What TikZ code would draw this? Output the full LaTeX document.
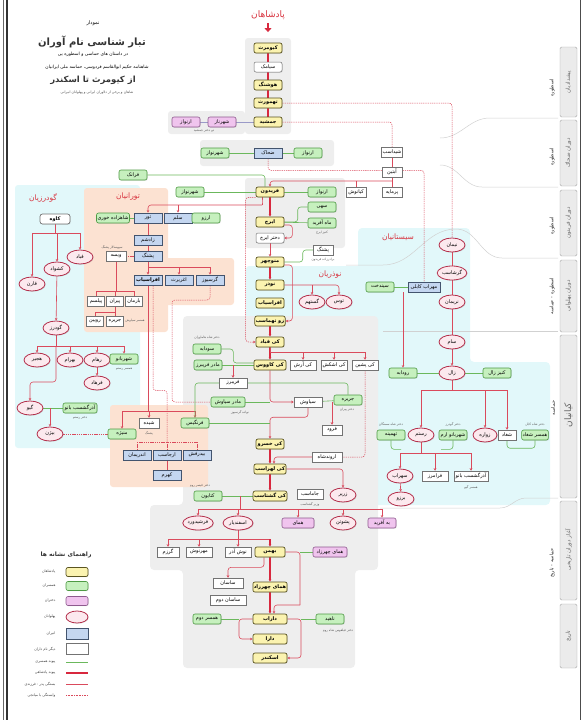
\documentclass[tikz,border=0pt]{standalone}
\usepackage{fontspec}
\usetikzlibrary{positioning,shapes.geometric,arrows.meta,shadows}
\newfontfamily\arabicfont[Script=Arabic]{DejaVu Sans}
\TeXXeTstate=1
\newcommand{\fa}[1]{\beginR #1\endR}

\definecolor{kingfill}{HTML}{FBF3B0}
\definecolor{kingline}{HTML}{5A5420}
\definecolor{wifefill}{HTML}{C6F0BE}
\definecolor{wifeline}{HTML}{4E9A44}
\definecolor{girlfill}{HTML}{F0C4EE}
\definecolor{girlline}{HTML}{8E5A8E}
\definecolor{herofill}{HTML}{FCE9EE}
\definecolor{heroline}{HTML}{B4304C}
\definecolor{anirfill}{HTML}{C4D6F0}
\definecolor{anirline}{HTML}{43546E}
\definecolor{royalred}{HTML}{D8283E}
\definecolor{kinred}{HTML}{DA4A5C}
\definecolor{marrygreen}{HTML}{6BB85C}
\definecolor{lavline}{HTML}{9A9AC8}
\definecolor{titlered}{HTML}{D8343F}
\definecolor{bggray}{HTML}{EEEEEE}
\definecolor{bgcyan}{HTML}{E2F8FA}
\definecolor{bgpeach}{HTML}{FCE2D2}

\pgfdeclarelayer{back}
\pgfdeclarelayer{wires}
\pgfsetlayers{back,wires,main}

\tikzset{
  famnode/.style={rectangle, rounded corners=2pt, minimum width=28pt, minimum height=10pt,
    inner sep=1pt, font=\arabicfont\fontsize{5}{6}\selectfont,
    drop shadow={opacity=0.25, shadow xshift=0.7pt, shadow yshift=-0.7pt}},
  kingbox/.style={famnode, draw=kingline, fill=kingfill, line width=0.7pt,
    font=\arabicfont\bfseries\fontsize{5}{6}\selectfont},
  wifebox/.style={famnode, draw=wifeline, fill=wifefill, line width=0.6pt},
  girlbox/.style={famnode, draw=girlline, fill=girlfill, line width=0.6pt},
  anirbox/.style={famnode, rounded corners=0pt, draw=anirline, fill=anirfill, line width=0.6pt},
  otherbox/.style={famnode, rounded corners=0pt, minimum width=20pt, draw=black!55, fill=white, line width=0.5pt},
  herobox/.style={famnode, ellipse, minimum width=26pt, minimum height=14pt, inner sep=0.5pt,
    draw=heroline, fill=herofill, line width=0.8pt},
  notetext/.style={font=\arabicfont\fontsize{3.2}{3.6}\selectfont, text=black!65, inner sep=0pt},
  grouptitle/.style={font=\arabicfont\fontsize{7.5}{8}\selectfont, text=titlered},
  eratab/.style={fill=black!8, draw=black!35, line width=0.4pt, rounded corners=1.5pt},
  eratext/.style={font=\arabicfont\fontsize{5.5}{6}\selectfont, text=black!60, rotate=90},
  eralabel/.style={font=\arabicfont\fontsize{5}{6}\selectfont, text=black!85, rotate=90},
  legendtext/.style={font=\arabicfont\fontsize{3.6}{4}\selectfont, text=black!75, anchor=east},
  royalline/.style={draw=royalred, line width=1.1pt, rounded corners=3pt},
  kinline/.style={draw=kinred, line width=0.6pt, rounded corners=3pt},
  viadash/.style={draw=kinred, line width=0.5pt, dash pattern=on 1.3pt off 0.9pt, rounded corners=3pt},
  marryline/.style={draw=marrygreen, line width=0.6pt, rounded corners=3pt},
  sepline/.style={draw=black!18, line width=0.5pt},
  arrowed/.style={-{Stealth[length=2.6pt,width=2.6pt]}}
}

\begin{document}
\begin{tikzpicture}[x=1pt,y=-1pt]
  \useasboundingbox (0,0) rectangle (583,720);

  % page frame
  \draw[line width=1.3pt, black!80] (7,0) -- (7,720);
  \draw[line width=0.4pt, black!60] (3,0) -- (3,720);
  \draw[line width=0.8pt, black!70] (580,0) -- (580,720);

  % background blocks
  \begin{pgfonlayer}{back}
    \fill[bggray, rounded corners=3pt] (245,38) rectangle (291,134);
    \fill[bggray, rounded corners=3pt] (168,111) rectangle (245,134);
    \fill[bggray, rounded corners=3pt] (200,140) rectangle (334,166);
    \fill[bggray, rounded corners=3pt] (245,178) rectangle (345,248);
    \fill[bgcyan, rounded corners=3pt] (246,266) rectangle (362,334);
    \fill[bgcyan, rounded corners=3pt] (15,185) rectangle (140,448);
    \fill[bgpeach, rounded corners=3pt] (84,188) rectangle (168,332);
    \fill[bgpeach, rounded corners=3pt] (160,258) rectangle (234,305);
    \fill[bgcyan, rounded corners=4pt] (358,228) -- (470,228) -- (470,362) -- (550,362)
      -- (550,505) -- (358,505) -- cycle;
    \fill[bggray, rounded corners=4pt] (183,316) -- (378,316) -- (378,570) -- (355,570)
      -- (355,668) -- (183,668) -- (183,570) -- (150,570) -- (150,505) -- (183,505) -- cycle;
    \fill[bgpeach, rounded corners=3pt] (110,405) rectangle (208,487);

    % era separators
    \draw[sepline] (558,118) -- (490,118) to[out=180,in=0] (440,138);
    \draw[sepline] (558,187) -- (482,187) to[out=180,in=0] (440,165);
    \draw[sepline] (558,258) -- (502,258) to[out=180,in=0] (456,229) to[out=180,in=0] (383,265) -- (346,265);
    \draw[sepline] (383,331) -- (558,331);
    \draw[sepline] (558,498) -- (526,498) to[out=180,in=0] (500,508) -- (380,508);
  \end{pgfonlayer}

  % title block
  \node[font=\arabicfont\fontsize{5}{6}\selectfont] (ttop) at (93,23) {\fa{نمودار}};
  \node[font=\arabicfont\bfseries\fontsize{10}{12}\selectfont, text=black!80] (tmain) at (92,42) {\fa{تبار شناسی نام آوران}};
  \node[font=\arabicfont\fontsize{4.5}{5}\selectfont] (tsub1) at (93,54) {\fa{در داستان های حماسی و اسطوره یی}};
  \node[font=\arabicfont\fontsize{4.5}{5}\selectfont] (tsub2) at (97,67) {\fa{شاهنامه حکیم ابوالقاسم فردوسی، حماسه ملی ایرانیان}};
  \node[font=\arabicfont\bfseries\fontsize{8.5}{10}\selectfont, text=black!80] (tsub3) at (93,80) {\fa{از کیومرث تا اسکندر}};
  \node[font=\arabicfont\fontsize{3.5}{4}\selectfont, text=black!70] (tsub4) at (97,93) {\fa{شاهان و برخی از دلاوران ایرانی و پهلوانان انیرانی}};

  % kings heading
  \node[grouptitle, font=\arabicfont\fontsize{9}{10}\selectfont] (kingstitle) at (268,15) {\fa{پادشاهان}};
  \draw[royalred, line width=2.6pt, -{Triangle[length=4pt,width=7pt]}] (kingstitle.south) -- ++(0,9);

  % Pishdadian
  \node[kingbox] (kiumars) at (268,48) {\fa{کیومرث}};
  \node[otherbox, rounded corners=2pt, minimum width=28pt] (siamak) at (268,67) {\fa{سیامک}};
  \node[kingbox] (hushang) at (268,85) {\fa{هوشنگ}};
  \node[kingbox] (tahmures) at (268,103) {\fa{تهمورث}};
  \node[kingbox] (jamshid) at (268,122) {\fa{جمشید}};
  \node[girlbox] (shahrnaz) at (222,122) {\fa{شهرناز}};
  \node[girlbox] (arnavazA) at (186,122) {\fa{ارنواز}};
  \node[notetext] (jamgirls) at (204,131) {\fa{دو دختر جمشید}};

  % Zahhak
  \node[anirbox] (zahhak) at (268,153) {\fa{ضحاک}};
  \node[wifebox] (shahrnavazA) at (215,153) {\fa{شهرنواز}};
  \node[wifebox] (arnavazB) at (308,153) {\fa{ارنواز}};
  \node[otherbox] (shidasb) at (392,152) {\fa{شیداسب}};
  \node[otherbox] (abtin) at (392,172) {\fa{آبتین}};

  % Fereydun
  \node[wifebox] (faranak) at (133,175) {\fa{فرانک}};
  \node[kingbox] (fereydun) at (270,192) {\fa{فریدون}};
  \node[wifebox] (shahrnavazB) at (190,192) {\fa{شهرنواز}};
  \node[wifebox] (arnavazC) at (322,192) {\fa{ارنواز}};
  \node[otherbox] (kianush) at (356,192) {\fa{کیانوش}};
  \node[otherbox] (purmayeh) at (392,192) {\fa{پرمایه}};
  \node[wifebox] (sahi) at (322,207) {\fa{سهی}};
  \node[wifebox] (mahafarid) at (322,223) {\fa{ماه آفرید}};
  \node[notetext] (mahnote) at (322,233) {\fa{کنیز ایرج}};
  \node[kingbox] (iraj) at (270,222) {\fa{ایرج}};
  \node[otherbox, rounded corners=2pt, minimum width=28pt] (irajgirl) at (270,238) {\fa{دختر ایرج}};
  \node[otherbox] (pashangA) at (323,250) {\fa{پشنگ}};
  \node[notetext] (pashnote) at (323,260) {\fa{برادرزاده فریدون}};
  \node[kingbox] (manuchehr) at (270,262) {\fa{منوچهر}};
  \node[anirbox] (salm) at (178,218) {\fa{سلم}};
  \node[anirbox] (tur) at (148,218) {\fa{تور}};
  \node[wifebox] (arzu) at (206,218) {\fa{ارزو}};
  \node[wifebox] (khuri) at (113,218) {\fa{شاهزاده خوری}};

  % Nowzarian
  \node[grouptitle] (nowztitle) at (330,275) {\fa{نوذریان}};
  \node[kingbox] (nowzar) at (270,285) {\fa{نوذر}};
  \node[kingbox] (afrasiabA) at (270,303) {\fa{افراسیاب}};
  \node[kingbox] (zav) at (270,321) {\fa{زو تهماسب}};
  \node[herobox] (gostahm) at (312,302) {\fa{گستهم}};
  \node[herobox] (tus) at (339,302) {\fa{توس}};

  % Turanian
  \node[grouptitle] (turtitle) at (128,197) {\fa{تورانیان}};
  \node[anirbox] (zadsham) at (148,240) {\fa{زادشم}};
  \node[anirbox] (pashangB) at (148,256) {\fa{پشنگ}};
  \node[otherbox] (viseh) at (116,256) {\fa{ویسه}};
  \node[notetext] (visnote) at (112,247) {\fa{سپهسالار پشنگ}};
  \node[anirbox, line width=0.9pt, font=\arabicfont\bfseries\fontsize{5}{6}\selectfont] (afrasiabB) at (148,280) {\fa{افراسیاب}};
  \node[anirbox] (aghrirath) at (179,280) {\fa{اغریرث}};
  \node[anirbox] (garsivaz) at (210,280) {\fa{گرسیوز}};
  \node[otherbox, minimum width=17pt] (pilsam) at (96,301) {\fa{پیلسم}};
  \node[otherbox, minimum width=17pt] (piran) at (115,301) {\fa{پیران}};
  \node[otherbox, minimum width=17pt] (barman) at (134,301) {\fa{بارمان}};
  \node[otherbox, minimum width=17pt] (ruin) at (95,321) {\fa{رویین}};
  \node[otherbox, minimum width=17pt] (jarirehA) at (115,321) {\fa{جریره}};
  \node[notetext] (jarnote) at (135,321) {\fa{همسر سیاوش}};
  \node[otherbox] (shideh) at (149,423) {\fa{شیده}};
  \node[notetext] (shidnote) at (149,433) {\fa{پشنگ}};
  \node[wifebox] (manizheh) at (122,434) {\fa{منیژه}};
  \node[wifebox] (farangis) at (195,423) {\fa{فرنگیس}};
  \node[anirbox] (andariman) at (137,455) {\fa{اندریمان}};
  \node[anirbox] (arjasb) at (167,455) {\fa{ارجاسب}};
  \node[anirbox] (bidarafsh) at (197,455) {\fa{بیدرفش}};
  \node[anirbox] (kahram) at (167,475) {\fa{کهرم}};

  % Goudarzian
  \node[grouptitle] (goudtitle) at (43,198) {\fa{گودرزیان}};
  \node[otherbox, rounded corners=2.5pt, minimum width=30pt, line width=0.7pt, font=\arabicfont\bfseries\fontsize{5}{6}\selectfont] (kaveh) at (55,219) {\fa{کاوه}};
  \node[herobox] (qobad) at (80,257) {\fa{قباد}};
  \node[herobox] (keshvad) at (57,269) {\fa{کشواد}};
  \node[herobox] (qaren) at (32,284) {\fa{قارن}};
  \node[herobox] (goudarz) at (56,328) {\fa{گودرز}};
  \node[herobox] (hajir) at (37,360) {\fa{هجیر}};
  \node[herobox] (bahram) at (70,360) {\fa{بهرام}};
  \node[herobox] (roham) at (97,360) {\fa{رهام}};
  \node[wifebox] (shahrbanuA) at (124,359) {\fa{شهربانو}};
  \node[notetext] (shbnote) at (124,369) {\fa{همسر رستم}};
  \node[herobox] (farhad) at (97,383) {\fa{فرهاد}};
  \node[herobox] (giv) at (30,408) {\fa{گیو}};
  \node[wifebox, minimum width=34pt] (azargoshasbA) at (80,408) {\fa{آذرگشسب بانو}};
  \node[notetext] (azanote) at (80,418) {\fa{دختر رستم}};
  \node[herobox] (bijan) at (50,434) {\fa{بیژن}};

  % Kayanian
  \node[kingbox] (kobad) at (270,342) {\fa{کی قباد}};
  \node[wifebox] (sudabeh) at (207,349) {\fa{سودابه}};
  \node[notetext] (sudnote) at (207,338) {\fa{دختر شاه هاماوران}};
  \node[wifebox] (mfariborz) at (208,365) {\fa{مادر فریبرز}};
  \node[kingbox, minimum width=32pt] (kavus) at (270,365) {\fa{کی کاووس}};
  \node[otherbox, minimum width=26pt] (arash) at (303,365) {\fa{کی آرش}};
  \node[otherbox, minimum width=26pt] (ashkash) at (334,365) {\fa{کی اشکش}};
  \node[otherbox, minimum width=26pt] (pashin) at (365,365) {\fa{کی پشین}};
  \node[otherbox, minimum width=28pt] (fariborz) at (233,383) {\fa{فریبرز}};
  \node[wifebox, minimum width=34pt] (msiavash) at (228,402) {\fa{مادر سیاوش}};
  \node[notetext] (msnote) at (240,412) {\fa{نواده گرسیوز}};
  \node[otherbox, minimum width=28pt] (siavash) at (308,402) {\fa{سیاوش}};
  \node[wifebox] (jarirehB) at (348,400) {\fa{جریره}};
  \node[notetext] (jbnote) at (347,410) {\fa{دختر پیران}};
  \node[otherbox] (farud) at (332,430) {\fa{فرود}};
  \node[kingbox] (khosrow) at (270,444) {\fa{کی خسرو}};
  \node[otherbox, minimum width=30pt] (arvand) at (327,457) {\fa{اروندشاه}};
  \node[kingbox, minimum width=32pt] (lohrasb) at (270,469) {\fa{کی لهراسب}};
  \node[wifebox] (katayun) at (208,496) {\fa{کتایون}};
  \node[notetext] (katnote) at (200,486) {\fa{دختر قیصر روم}};
  \node[kingbox, minimum width=32pt] (goshtasb) at (270,496) {\fa{کی گشتاسب}};
  \node[otherbox, minimum width=26pt] (jamasb) at (310,494) {\fa{جاماسب}};
  \node[notetext] (jamnote) at (310,504) {\fa{وزیر گشتاسب}};
  \node[herobox] (zarir) at (343,495) {\fa{زریر}};
  \node[herobox, minimum width=30pt] (farshidvard) at (198,523) {\fa{فرشیدورد}};
  \node[herobox, minimum width=30pt] (esfandiar) at (238,523) {\fa{اسفندیار}};
  \node[girlbox, minimum width=32pt] (homay) at (298,523) {\fa{همای}};
  \node[herobox] (pashutan) at (343,523) {\fa{پشوتن}};
  \node[girlbox] (behafarid) at (382,523) {\fa{به آفرید}};

  % Bahman to Eskandar
  \node[otherbox, minimum width=22pt] (gorazm) at (168,552) {\fa{گرزم}};
  \node[otherbox, minimum width=26pt] (mehrnush) at (199,552) {\fa{مهرنوش}};
  \node[otherbox, minimum width=26pt] (nushazar) at (238,552) {\fa{نوش آذر}};
  \node[kingbox, minimum width=30pt] (bahman) at (270,552) {\fa{بهمن}};
  \node[girlbox, minimum width=34pt] (homaygirl) at (330,552) {\fa{همای چهرزاد}};
  \node[otherbox, minimum width=30pt] (sasan) at (228,583) {\fa{ساسان}};
  \node[otherbox, minimum width=36pt] (sasantwo) at (228,600) {\fa{ساسان دوم}};
  \node[kingbox, minimum width=34pt] (homayqueen) at (270,587) {\fa{همای چهرزاد}};
  \node[kingbox, minimum width=34pt] (darab) at (270,619) {\fa{داراب}};
  \node[wifebox] (nahid) at (330,619) {\fa{ناهید}};
  \node[notetext] (nahnote) at (338,631) {\fa{دختر فیلقوس شاه روم}};
  \node[wifebox] (secwife) at (207,619) {\fa{همسر دوم}};
  \node[kingbox, minimum width=34pt] (dara) at (270,639) {\fa{دارا}};
  \node[kingbox, minimum width=34pt] (eskandar) at (270,658) {\fa{اسکندر}};

  % Sistanian
  \node[grouptitle] (sistitle) at (398,237) {\fa{سیستانیان}};
  \node[herobox] (nariA) at (452,245) {\fa{نیمان}};
  \node[herobox] (garshasb) at (452,273) {\fa{گرشاسب}};
  \node[herobox] (nariman) at (452,302) {\fa{نریمان}};
  \node[herobox] (sam) at (452,342) {\fa{سام}};
  \node[wifebox] (sindokht) at (380,287) {\fa{سیندخت}};
  \node[anirbox, minimum width=32pt] (mehrab) at (424,287) {\fa{مهراب کابلی}};
  \node[herobox] (zal) at (452,373) {\fa{زال}};
  \node[wifebox] (rudabeh) at (403,373) {\fa{رودابه}};
  \node[wifebox] (kanizzal) at (497,373) {\fa{کنیز زال}};
  \node[wifebox] (tahmineh) at (391,435) {\fa{تهمینه}};
  \node[notetext] (tahnote) at (391,424) {\fa{دختر شاه سمنگان}};
  \node[herobox] (rostam) at (421,435) {\fa{رستم}};
  \node[wifebox] (shahrbanuB) at (453,435) {\fa{شهربانو ارم}};
  \node[notetext] (shnoteB) at (453,424) {\fa{دختر گودرز}};
  \node[herobox, minimum width=24pt] (zavareh) at (485,435) {\fa{زواره}};
  \node[otherbox, minimum width=18pt] (shaghad) at (507,435) {\fa{شغاد}};
  \node[wifebox, minimum width=26pt] (shaghadwife) at (535,435) {\fa{همسر شغاد}};
  \node[notetext] (shwnote) at (535,425) {\fa{دختر شاه کابل}};
  \node[herobox] (sohrab) at (400,476) {\fa{سهراب}};
  \node[otherbox, minimum width=26pt] (faramarz) at (435,476) {\fa{فرامرز}};
  \node[otherbox, minimum width=34pt] (azargoshasbB) at (471,476) {\fa{آذرگشسب بانو}};
  \node[notetext] (azbnote) at (471,487) {\fa{همسر گیو}};
  \node[herobox] (borzu) at (401,499) {\fa{برزو}};

  % joints
  \coordinate (abtinbar) at (392,181);
  \coordinate (ferbar) at (262,205);
  \coordinate (kobadbar) at (270,352);
  \coordinate (gbar) at (240,509);
  \coordinate (ebar) at (238,539);
  \coordinate (bdjoin) at (300,605);
  \coordinate (dleft) at (239,619);
  \coordinate (dright) at (301,619);
  \coordinate (zbar) at (421,390);
  \coordinate (rbar) at (421,453);
  \coordinate (kbar) at (55,233);
  \coordinate (gdbar) at (56,346);
  \coordinate (pbar) at (148,267);
  \coordinate (vbar) at (116,291);
  \coordinate (pibar) at (115,312);
  \coordinate (abar) at (148,411);
  \coordinate (arjbar) at (167,442);
  \coordinate (gsv) at (172,300);

  \begin{pgfonlayer}{wires}
    % Pishdadian and Zahhak
    \draw[royalline] (kiumars) -- (siamak) -- (hushang) -- (tahmures) -- (jamshid);
    \draw[lavline, line width=0.6pt] (jamshid) -- (shahrnaz) -- (arnavazA);
    \draw[marryline] (shahrnavazA) -- (zahhak) -- (arnavazB);
    \draw[viadash] (tahmures.east) -| (nariA.north);
    \draw[viadash] (jamshid.east) -| (shidasb.north);
    \draw[viadash] (zahhak.south) -- ++(0,12) -| (mehrab.north);
    \draw[kinline] (shidasb) -- (abtin);

    % Fereydun
    \draw[kinline] (abtin) -- (purmayeh);
    \draw[kinline, arrowed] (abtinbar) -| (fereydun.north);
    \draw[kinline] (abtinbar -| kianush) -- (kianush);
    \draw[marryline] (faranak.east) -| ([xshift=-5pt]fereydun.north);
    \draw[marryline] (shahrnavazB) -- (fereydun);
    \draw[marryline] (arnavazC) -- (fereydun);
    \draw[kinline] ([xshift=-8pt]fereydun.south) |- (ferbar);
    \draw[kinline, arrowed] (ferbar) -| (tur);
    \draw[kinline, arrowed] (salm |- ferbar) -- (salm);
    \draw[marryline] (khuri) -- (tur);
    \draw[marryline] (salm) -- (arzu);
    \draw[royalline, arrowed] (fereydun) -- (iraj);
    \draw[marryline] (sahi.west) -- ++(-10,0) |- (iraj.east);
    \draw[marryline] (mahafarid) -- (iraj);
    \draw[kinline, arrowed] ([yshift=-3pt]iraj.east) -- ++(8,0) |- (irajgirl.east);
    \draw[kinline, arrowed] (irajgirl) -- (manuchehr);
    \draw[marryline] (pashangA.west) -- ++(-10,0) |- (manuchehr.east);
    \draw[viadash, arrowed] (fereydun.south west) -- ++(-10,0) |- (kobad.west);

    % Nowzarian
    \draw[royalline, arrowed] (manuchehr) -- (nowzar);
    \draw[kinline, arrowed] (nowzar.east) -| (tus.north);
    \draw[kinline, arrowed] (gostahm |- nowzar) -- (gostahm);
    \draw[kinline, arrowed] ([yshift=-3pt]manuchehr.east) -- ++(8,0) |- (zav.east);
    \draw[royalline, arrowed] (zav) -- (kobad);

    % Turanian
    \draw[kinline] (tur) -- (zadsham) -- (pashangB);
    \draw[kinline, arrowed] (pashangB) -- (afrasiabB);
    \draw[viadash] (pashangB) -- (viseh);
    \draw[kinline] (pbar) -- (pbar -| garsivaz);
    \draw[kinline, arrowed] (pbar -| aghrirath) -- (aghrirath);
    \draw[kinline, arrowed] (pbar -| garsivaz) -- (garsivaz);
    \draw[kinline] (viseh) -- (vbar);
    \draw[kinline] (vbar -| pilsam) -- (vbar -| barman);
    \foreach \n in {pilsam,piran,barman} \draw[kinline] (vbar -| \n) -- (\n);
    \draw[kinline] (piran) -- (pibar);
    \draw[kinline] (pibar -| ruin) -- (pibar -| jarirehA);
    \foreach \n in {ruin,jarirehA} \draw[kinline] (pibar -| \n) -- (\n);
    \draw[kinline] (afrasiabB) -- (abar);
    \draw[kinline] (abar -| manizheh) -- (abar -| farangis);
    \foreach \n in {manizheh,shideh,farangis} \draw[kinline, arrowed] (abar -| \n) -- (\n);
    \draw[viadash] ([xshift=5pt]afrasiabB.south) -- ++(0,105) -| (arjbar);
    \draw[viadash] (arjbar -| andariman) -- (arjbar -| bidarafsh);
    \foreach \n in {andariman,arjasb,bidarafsh} \draw[viadash] (arjbar -| \n) -- (\n);
    \draw[kinline] (arjasb) -- (kahram);
    \draw[viadash] (garsivaz.south) |- (gsv) |- (msiavash.west);

    % Goudarzian
    \draw[kinline] (kaveh) -- (kbar);
    \draw[kinline] (kbar -| qaren) -- (kbar -| qobad);
    \foreach \n in {qaren,keshvad,qobad} \draw[kinline, arrowed] (kbar -| \n) -- (\n);
    \draw[kinline, arrowed] (keshvad) -- (goudarz);
    \draw[kinline] (goudarz) -- (gdbar);
    \draw[kinline] (gdbar -| hajir) -- (gdbar -| shahrbanuA);
    \foreach \n in {hajir,bahram,roham,shahrbanuA} \draw[kinline, arrowed] (gdbar -| \n) -- (\n);
    \draw[kinline, arrowed] (roham) -- (farhad);
    \draw[kinline, arrowed] (gdbar) -- ++(0,36) -| (giv);
    \draw[marryline] (giv) -- (azargoshasbA);
    \draw[kinline, arrowed] (bijan |- giv) -- (bijan);
    \draw[viadash] (bijan) -- (manizheh);

    % Kayanian
    \draw[royalline, arrowed] (kobad) -- (kavus);
    \draw[kinline] (kobad) -- (kobadbar);
    \draw[kinline] (kobadbar) -- (kobadbar -| pashin);
    \foreach \n in {arash,ashkash,pashin} \draw[kinline, arrowed] (kobadbar -| \n) -- (\n);
    \draw[marryline] (sudabeh.east) -- ++(12,0) |- ([yshift=2pt]kavus.west);
    \draw[marryline] (mfariborz) -- (kavus);
    \draw[kinline, arrowed] (fariborz |- kavus) -- (fariborz);
    \draw[marryline] (farangis.north) |- (fariborz.west);
    \draw[marryline] (fariborz.east) -| (jarirehB.north);
    \draw[kinline, arrowed] (kavus.south) |- (siavash.west);
    \draw[marryline] (msiavash.east) -- (msiavash.east -| kavus);
    \draw[marryline] (jarirehB) -- (siavash);
    \draw[kinline, arrowed] (farud |- siavash) -- (farud);
    \draw[kinline, arrowed] (siavash.south) -- ++(0,10) -| (khosrow.north);
    \draw[marryline] (farangis.east) -- (farangis.east -| khosrow);
    \draw[viadash] (pashin.south) |- (arvand.east);
    \draw[kinline, arrowed] (arvand.west) -| ([xshift=4pt]lohrasb.north);
    \draw[royalline, arrowed] (khosrow) -- (lohrasb);
    \draw[royalline, arrowed] (lohrasb) -- (goshtasb);
    \draw[kinline, arrowed] (lohrasb.east) -| (zarir.north);
    \draw[marryline] (katayun) -- (goshtasb);
    \draw[kinline] (gbar |- goshtasb) -- (gbar);
    \draw[kinline] (gbar -| farshidvard) -- (gbar -| behafarid);
    \foreach \n in {farshidvard,esfandiar,homay,pashutan,behafarid} \draw[kinline, arrowed] (gbar -| \n) -- (\n);

    % Bahman to Eskandar
    \draw[kinline] (esfandiar) -- (ebar);
    \draw[kinline] (ebar -| gorazm) -- (ebar -| bahman);
    \foreach \n in {gorazm,mehrnush,nushazar} \draw[kinline, arrowed] (ebar -| \n) -- (\n);
    \draw[royalline, arrowed] (ebar -| bahman) -- (bahman);
    \draw[royalline, arrowed] (bahman) -- (homayqueen);
    \draw[kinline, arrowed] ([xshift=-6pt]bahman.south) -- ++(0,10) -| (sasan.north);
    \draw[kinline] (bahman.east) -| (bdjoin);
    \draw[kinline, arrowed] (bdjoin) -| ([xshift=4pt]darab.north);
    \draw[marryline] (homaygirl.west) -- (homaygirl.west -| bdjoin);
    \draw[royalline, arrowed] (homayqueen) -- (darab);
    \draw[kinline, arrowed] (darab.west) -- (dleft) |- (dara.west);
    \draw[marryline] (secwife) -- (dleft);
    \draw[kinline, arrowed] (darab.east) -- (dright) |- (eskandar.east);
    \draw[marryline] (nahid) -- (dright);

    % Sistanian
    \draw[kinline] (nariA) -- (garshasb) -- (nariman) -- (sam);
    \draw[kinline, arrowed] (sam) -- (zal);
    \draw[marryline] (sindokht) -- (mehrab);
    \draw[kinline, arrowed] (rudabeh |- mehrab.south) -- (rudabeh);
    \draw[marryline] (rudabeh) -- (zal);
    \draw[marryline] (kanizzal) -- (zal);
    \draw[kinline] (zal) -- (zal |- zbar);
    \draw[kinline] (zbar) -- (zbar -| shaghad);
    \foreach \n in {rostam,zavareh,shaghad} \draw[kinline, arrowed] (zbar -| \n) -- (\n);
    \draw[marryline] (shaghad.south) -- ++(0,8) -| (shaghadwife.south);
    \draw[kinline] (rostam) -- (rbar);
    \draw[kinline] (rbar -| sohrab) -- (rbar -| azargoshasbB);
    \foreach \n in {sohrab,faramarz,azargoshasbB} \draw[kinline, arrowed] (rbar -| \n) -- (\n);
    \draw[marryline] (tahmineh.south) -- ++(0,9) -- ++(10,0);
    \draw[marryline] (shahrbanuB.south) -- ++(0,9) -- ++(-12,0);
    \draw[kinline, arrowed] (sohrab) -- (borzu);
  \end{pgfonlayer}

  % era tabs on the right
  \draw[eratab] (560,47) rectangle (577,117);
  \draw[eratab] (560,120) rectangle (577,186);
  \draw[eratab] (560,190) rectangle (577,256);
  \draw[eratab] (560,260) rectangle (577,332);
  \draw[eratab] (560,335) rectangle (577,498);
  \draw[eratab] (560,501) rectangle (577,600);
  \draw[eratab] (560,604) rectangle (577,668);
  \node[eratext] (tabA) at (568.5,82) {\fa{پیشدادیان}};
  \node[eratext] (tabB) at (568.5,153) {\fa{دوران ضحاک}};
  \node[eratext] (tabC) at (568.5,223) {\fa{دوران فریدون}};
  \node[eratext] (tabD) at (568.5,296) {\fa{دوران پهلوانی}};
  \node[eratext, font=\arabicfont\fontsize{9}{10}\selectfont] (tabE) at (568.5,415) {\fa{کیانیان}};
  \node[eratext] (tabF) at (568.5,550) {\fa{آغاز دوران تاریخی}};
  \node[eratext] (tabG) at (568.5,636) {\fa{تاریخ}};
  \node[eralabel] (eraA) at (552,88) {\fa{اسطوره}};
  \node[eralabel] (eraB) at (552,157) {\fa{اسطوره}};
  \node[eralabel] (eraC) at (552,226) {\fa{اسطوره}};
  \node[eralabel] (eraD) at (552,296) {\fa{اسطوره - حماسه}};
  \node[eralabel] (eraE) at (553,408) {\fa{حماسه}};
  \node[eralabel] (eraF) at (552,563) {\fa{حماسه - تاریخ}};

  % legend
  \node[font=\arabicfont\bfseries\fontsize{6}{7}\selectfont, text=black!80] (legtitle) at (66,555) {\fa{راهنمای نشانه ها}};
  \node[kingbox, minimum width=22pt, minimum height=9pt] (keyking) at (77,572) {};
  \node[wifebox, minimum width=22pt, minimum height=9pt] (keywife) at (77,586) {};
  \node[girlbox, minimum width=22pt, minimum height=9pt] (keygirl) at (77,601) {};
  \node[herobox, minimum width=22pt, minimum height=12pt] (keyhero) at (77,617) {};
  \node[anirbox, minimum width=22pt, minimum height=11pt] (keyanir) at (77,634) {};
  \node[otherbox, minimum width=22pt, minimum height=11pt] (keyother) at (77,649) {};
  \draw[marryline] (66,662) -- (88,662);
  \draw[royalline] (66,673) -- (88,673);
  \draw[kinline] (66,684) -- (88,684);
  \draw[viadash, dash pattern=on 0.8pt off 0.8pt] (66,695) -- (88,695);
  \node[legendtext] (ltA) at (59,572) {\fa{پادشاهان}};
  \node[legendtext] (ltB) at (59,586) {\fa{همسران}};
  \node[legendtext] (ltC) at (59,601) {\fa{دختران}};
  \node[legendtext] (ltD) at (59,617) {\fa{پهلوانان}};
  \node[legendtext] (ltE) at (59,634) {\fa{انیران}};
  \node[legendtext] (ltF) at (59,649) {\fa{دیگر نام داران}};
  \node[legendtext] (ltG) at (59,662) {\fa{پیوند همسری}};
  \node[legendtext] (ltH) at (59,673) {\fa{پیوند پادشاهی}};
  \node[legendtext] (ltI) at (59,684) {\fa{بستگی پدر - فرزندی}};
  \node[legendtext] (ltJ) at (59,695) {\fa{وابستگی با میانجی}};
\end{tikzpicture}
\end{document}
